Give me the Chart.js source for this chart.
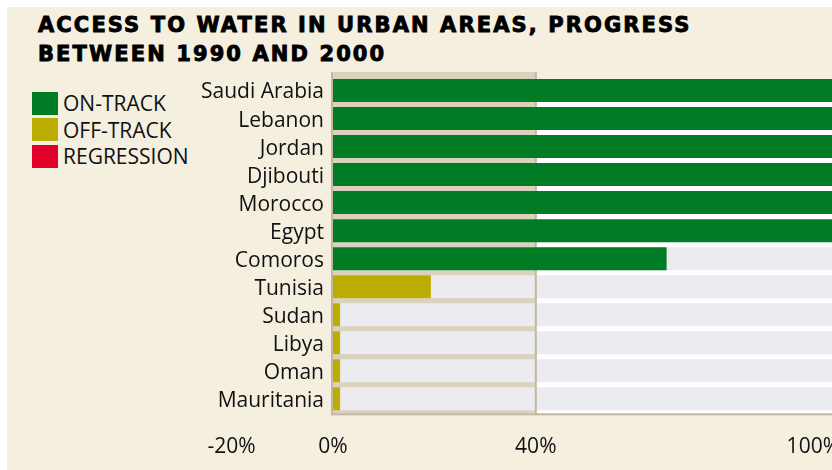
<!DOCTYPE html>
<html>
<head>
<meta charset="utf-8">
<title>Access to water in urban areas</title>
<script src="https://cdn.jsdelivr.net/npm/chart.js@4.4.0/dist/chart.umd.min.js"></script>
<style>
    html, body { margin: 0; padding: 0; background: #fff; overflow: hidden; }
    #page { position: relative; width: 832px; height: 470px; overflow: hidden; }
    #panel { position: absolute; left: 7px; top: 7px; width: 860px; height: 480px; background: #f5efe0; }
    #title {
        position: absolute; left: 38px; top: 11px;
        font-family: 'DejaVu Sans', sans-serif; font-weight: bold; font-size: 21px;
        line-height: 29px; letter-spacing: 2.1px; color: #000;
        -webkit-text-stroke: 0.9px #000; white-space: nowrap;
    }
    #legend { position: absolute; left: 32px; top: 90px; font-family: 'Open Sans', sans-serif; font-size: 21px; color: #111; }
    .legend-item { display: flex; align-items: center; height: 26.5px; line-height: 26px; }
    .legend-swatch { width: 26px; height: 23px; margin-right: 5px; }
    #chart { position: absolute; left: 0; top: 0; }
</style>
</head>
<body>
<div id="page">
    <div id="panel"></div>
    <div id="title">ACCESS TO WATER IN URBAN AREAS, PROGRESS<br>BETWEEN 1990 AND 2000</div>
    <div id="legend"></div>
    <!-- canvas is a bit larger than the window: the original picture is cropped at 100% -->
    <canvas id="chart" width="862" height="482"></canvas>
</div>
<script>
const countries = ['Saudi Arabia', 'Lebanon', 'Jordan', 'Djibouti', 'Morocco', 'Egypt',
    'Comoros', 'Tunisia', 'Sudan', 'Libya', 'Oman', 'Mauritania'];
const progress = [100, 100, 100, 100, 100, 100, 65.8, 19.3, 1.4, 1.4, 1.4, 1.4];
const statusOf = [0, 0, 0, 0, 0, 0, 0, 1, 1, 1, 1, 1]; // index into statusNames
const trackValues = [100, 100, 100, 100, 100, 100, 100, 100, 100, 100, 100, 100];
const statusNames = ['ON-TRACK', 'OFF-TRACK', 'REGRESSION'];
const statusColors = ['#007d24', '#bcae00', '#e0002a'];
const xTicks = [-20, 0, 40, 100];

function buildLegend() {
    const legend = document.getElementById('legend');
    legend.innerHTML = '';
    statusNames.forEach((name, i) => {
        const item = document.createElement('div');
        item.className = 'legend-item';
        const swatch = document.createElement('span');
        swatch.className = 'legend-swatch';
        swatch.style.background = statusColors[i];
        item.appendChild(swatch);
        item.appendChild(document.createTextNode(name));
        legend.appendChild(item);
    });
}

// tan band from 0% to 40%, white field beyond, plus the thin frame lines
const panelPlugin = {
    id: 'panel',
    beforeDatasetsDraw(chart) {
        const { ctx, chartArea: a, scales: { x } } = chart;
        const x0 = x.getPixelForValue(0);
        const x40 = x.getPixelForValue(40);
        ctx.save();
        ctx.fillStyle = '#ffffff';
        ctx.fillRect(x40, a.top + 2.5, a.right - x40, a.bottom - a.top - 2);
        ctx.fillStyle = '#dad2bd';
        ctx.fillRect(x0, a.top - 4.5, x40 - x0, a.bottom - a.top + 5);
        ctx.restore();
    },
    afterDatasetDraw(chart, args) {
        if (args.index !== 1) return; // after the grey tracks, before the coloured bars
        const { ctx, chartArea: a, scales: { x } } = chart;
        const x0 = x.getPixelForValue(0);
        const x40 = x.getPixelForValue(40);
        ctx.save();
        ctx.fillStyle = '#c3b6a4';
        ctx.fillRect(x0 - 2, a.top - 4.5, 2, a.bottom - a.top + 7);
        ctx.fillRect(x40 - 1, a.top - 4.5, 2, a.bottom - a.top + 7);
        ctx.fillRect(x0 - 2, a.bottom + 0.5, a.right - x0 + 2, 2);
        ctx.restore();
    }
};

function createChart() {
    buildLegend();
    Chart.defaults.font.family = "'Open Sans', sans-serif";
    const ctx = document.getElementById('chart').getContext('2d');
    new Chart(ctx, {
        type: 'bar',
        data: {
            labels: countries,
            datasets: [{
                label: 'Progress',
                data: progress,
                backgroundColor: statusOf.map(s => statusColors[s]),
                grouped: false,
                barPercentage: 1,
                categoryPercentage: 0.82
            }, {
                label: 'Track',
                data: trackValues,
                backgroundColor: '#ebebf0',
                grouped: false,
                barPercentage: 1,
                categoryPercentage: 0.82
            }]
        },
        options: {
            indexAxis: 'y',
            responsive: false,
            animation: false,
            devicePixelRatio: 1,
            layout: { padding: { top: 76.5, right: 0, bottom: 0, left: 0 } },
            plugins: {
                legend: { display: false },
                tooltip: { enabled: false }
            },
            scales: {
                x: {
                    min: 0,
                    max: 100,
                    grid: { display: false, drawTicks: false },
                    border: { display: false },
                    afterBuildTicks: axis => {
                        // leading blank tick so 'inner' alignment only affects the 100% label
                        axis.ticks = [{ value: 0 }].concat(xTicks.map(v => ({ value: v })));
                    },
                    ticks: {
                        autoSkip: false,
                        align: 'inner',
                        padding: 22,
                        color: '#111',
                        font: { size: 21 },
                        callback: (value, index) => index === 0 ? '' : value + '%'
                    }
                },
                y: {
                    grid: { display: false, drawTicks: false },
                    border: { display: false },
                    afterFit: axis => { axis.width = 333; },
                    ticks: {
                        autoSkip: false,
                        padding: 9,
                        labelOffset: 2,
                        color: '#111',
                        font: { size: 21 }
                    }
                }
            }
        },
        plugins: [panelPlugin]
    });
}

document.addEventListener('DOMContentLoaded', createChart);
</script>
</body>
</html>
